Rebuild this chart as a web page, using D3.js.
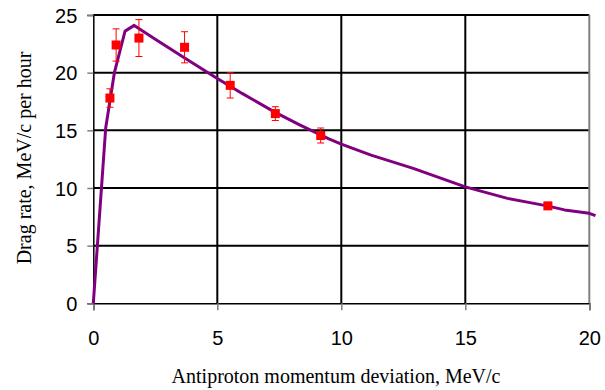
<!DOCTYPE html>
<html>
<head>
<meta charset="utf-8">
<script src="https://cdn.jsdelivr.net/npm/d3@7"></script>
<style>
  html, body { margin: 0; padding: 0; background: #fff; }
  svg { display: block; }
</style>
</head>
<body>
<svg id="chart" width="605" height="390"></svg>
<script>
// Data
const pointX = [0.67, 0.92, 1.84, 3.68, 5.52, 7.34, 9.17, 18.33];
const pointY = [17.8, 22.4, 23.0, 22.2, 18.9, 16.45, 14.55, 8.45];
const pointErr = [0.8, 1.4, 1.6, 1.35, 1.1, 0.6, 0.65, 0];

const curveX = [0, 0.5, 0.85, 1.28, 1.65, 2.5, 3.7, 5, 6, 7.3, 8.3, 9.5, 10, 11.2, 12.9, 15, 16.7, 18.3, 19, 20, 20.25];
const curveY = [0, 15.2, 20, 23.6, 24.1, 22.9, 21.25, 19.5, 18.2, 16.6, 15.5, 14.25, 13.8, 12.85, 11.7, 10.1, 9.1, 8.45, 8.1, 7.8, 7.6];

const xTicks = [0, 5, 10, 15, 20];
const yTicks = [0, 5, 10, 15, 20, 25];

const xTitle = "Antiproton momentum deviation, MeV/c";
const yTitle = "Drag rate, MeV/c per hour";

(function () {
const svg = d3.select("#chart");
const pLeft = 93.3, pRight = 589.3, pTop = 15, pBottom = 303.3;

const x = d3.scaleLinear().domain([0, 20]).range([pLeft, pRight]);
const y = d3.scaleLinear().domain([0, 25]).range([pBottom, pTop]);

// horizontal gridlines
svg.append("g").selectAll("line").data(yTicks.filter(d => d > 0)).join("line")
  .attr("x1", pLeft).attr("x2", pRight)
  .attr("y1", d => y(d)).attr("y2", d => y(d))
  .attr("stroke", "#000").attr("stroke-width", 2);

// vertical gridlines
svg.append("g").selectAll("line").data(xTicks.filter(d => d > 0)).join("line")
  .attr("x1", d => x(d)).attr("x2", d => x(d))
  .attr("y1", pTop).attr("y2", pBottom)
  .attr("stroke", d => d === 20 ? "#808080" : "#000").attr("stroke-width", 2);

// Y axis
const yAxis = svg.append("g").attr("transform", `translate(${pLeft},0)`)
  .call(d3.axisLeft(y).tickValues(yTicks).tickSize(6).tickPadding(10).tickFormat(d3.format("d")));
yAxis.select(".domain").attr("stroke", "#000").attr("stroke-width", 1.5);
yAxis.selectAll(".tick line").attr("stroke", "#808080").attr("stroke-width", 1.5);
yAxis.selectAll(".tick text")
  .attr("font-family", "Liberation Sans, Arial, sans-serif")
  .attr("font-size", 20).attr("fill", "#000")
  .attr("dy", "0.36em");

// X axis
const xAxis = svg.append("g").attr("transform", `translate(0,${pBottom})`)
  .call(d3.axisBottom(x).tickValues(xTicks).tickSize(7).tickPadding(21).tickFormat(d3.format("d")));
xAxis.select(".domain").attr("stroke", "#000").attr("stroke-width", 1.5);
xAxis.selectAll(".tick line").attr("stroke", "#808080").attr("stroke-width", 1.5);
xAxis.selectAll(".tick text")
  .attr("font-family", "Liberation Sans, Arial, sans-serif")
  .attr("font-size", 20).attr("fill", "#000");

// Curve
svg.append("path")
  .datum(curveX.map((d, i) => [d, curveY[i]]))
  .attr("fill", "none")
  .attr("stroke", "#800080")
  .attr("stroke-width", 3)
  .attr("stroke-linejoin", "round")
  .attr("d", d3.line().x(d => x(d[0])).y(d => y(d[1])));

// Error bars
const pts = pointX.map((d, i) => ({ x: d, y: pointY[i], e: pointErr[i] }));
const eb = pts.filter(p => p.e > 0);
const eg = svg.append("g").attr("stroke", "#ff0000").attr("stroke-width", 1);
eg.selectAll("line.v").data(eb).join("line").attr("class", "v")
  .attr("x1", p => x(p.x)).attr("x2", p => x(p.x))
  .attr("y1", p => y(p.y + p.e)).attr("y2", p => y(p.y - p.e));
eg.selectAll("line.t").data(eb).join("line").attr("class", "t")
  .attr("x1", p => x(p.x) - 3.5).attr("x2", p => x(p.x) + 3.5)
  .attr("y1", p => y(p.y + p.e)).attr("y2", p => y(p.y + p.e));
eg.selectAll("line.b").data(eb).join("line").attr("class", "b")
  .attr("x1", p => x(p.x) - 3.5).attr("x2", p => x(p.x) + 3.5)
  .attr("y1", p => y(p.y - p.e)).attr("y2", p => y(p.y - p.e));

// Markers
const s = 9;
svg.append("g").selectAll("rect").data(pts).join("rect")
  .attr("x", p => x(p.x) - s / 2).attr("y", p => y(p.y) - s / 2)
  .attr("width", s).attr("height", s)
  .attr("fill", "#ff0000");

// Titles
svg.append("text")
  .attr("x", 336).attr("y", 383)
  .attr("text-anchor", "middle")
  .attr("font-family", "Liberation Serif, Times New Roman, serif")
  .attr("font-size", 20).attr("fill", "#000")
  .text(xTitle);

svg.append("text")
  .attr("transform", "translate(31,158) rotate(-90)")
  .attr("text-anchor", "middle")
  .attr("font-family", "Liberation Serif, Times New Roman, serif")
  .attr("font-size", 20).attr("fill", "#000")
  .text(yTitle);
})();
</script>
</body>
</html>
